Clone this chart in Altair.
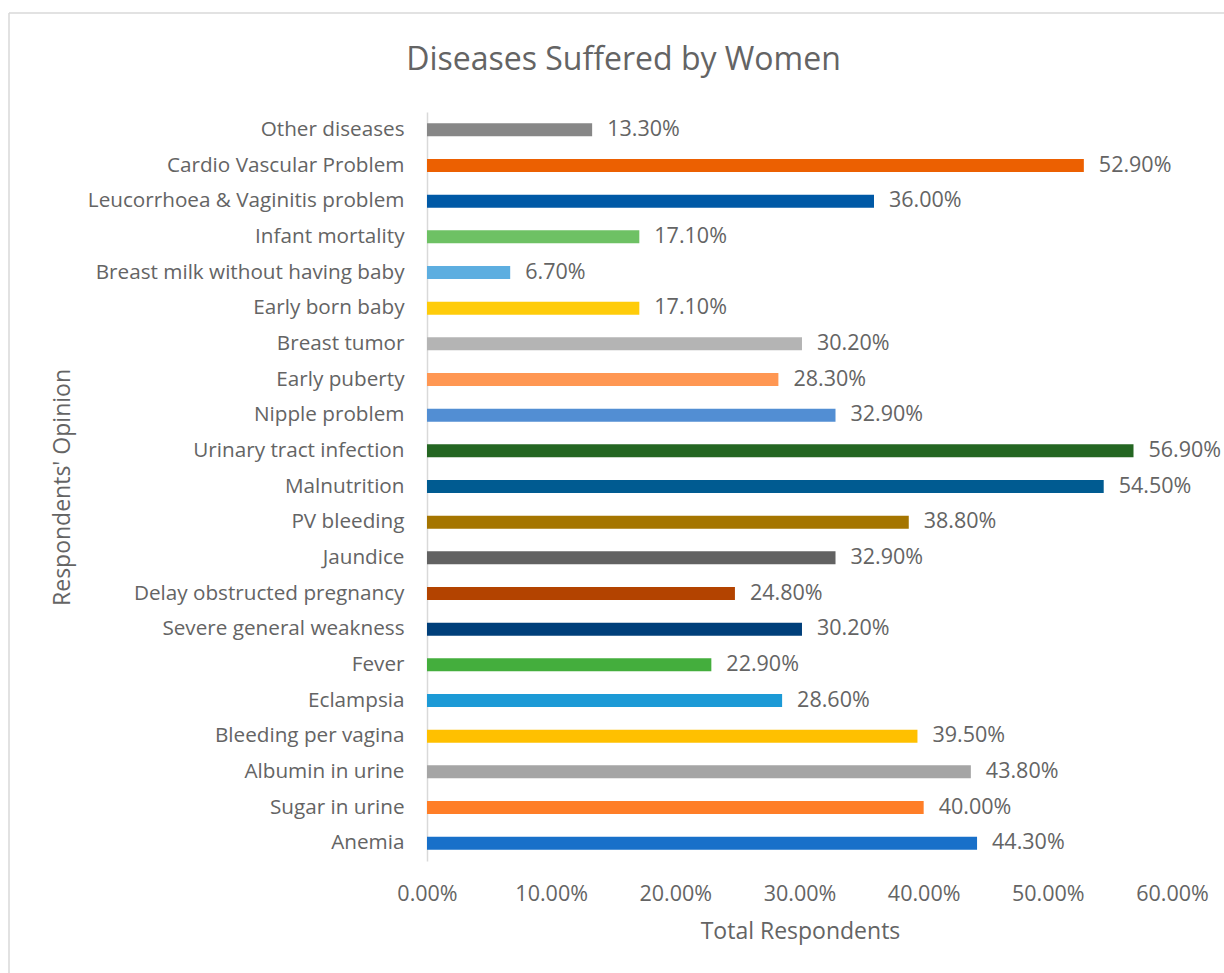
import altair as alt
import pandas as pd

# Categories listed top to bottom as they appear on the chart
diseases = [
    "Other diseases",
    "Cardio Vascular Problem",
    "Leucorrhoea & Vaginitis problem",
    "Infant mortality",
    "Breast milk without having baby",
    "Early born baby",
    "Breast tumor",
    "Early puberty",
    "Nipple problem",
    "Urinary tract infection",
    "Malnutrition",
    "PV bleeding",
    "Jaundice",
    "Delay obstructed pregnancy",
    "Severe general weakness",
    "Fever",
    "Eclampsia",
    "Bleeding per vagina",
    "Albumin in urine",
    "Sugar in urine",
    "Anemia",
]

# Share of respondents (fraction of 1)
shares = [
    0.133, 0.529, 0.360, 0.171, 0.067, 0.171, 0.302, 0.283, 0.329, 0.569, 0.545,
    0.388, 0.329, 0.248, 0.302, 0.229, 0.286, 0.395, 0.438, 0.400, 0.443,
]

bar_colors = [
    "#878787", "#EC6001", "#0059A6", "#6EC164", "#5DAEE0", "#FFCC0A", "#B4B4B4",
    "#FF9753", "#528ED3", "#246622", "#005B91", "#A57500", "#626262", "#B34300",
    "#003F7A", "#44AE3D", "#1C9AD6", "#FFC000", "#A5A5A5", "#FF7E27", "#1870C9",
]

x_ticks = [0.0, 0.1, 0.2, 0.3, 0.4, 0.5, 0.6]

df = pd.DataFrame({"disease": diseases, "share": shares})

FONT = "Open Sans"
TEXT_GREY = "#646464"
PLOT_W, PLOT_H = 745, 749
PAD_L, PAD_T = 427, 112

x_enc = alt.X(
    "share:Q",
    scale=alt.Scale(domain=[0, 0.6], nice=False, zero=True),
    axis=alt.Axis(
        values=x_ticks,
        format=".2%",
        title="Total Respondents",
        grid=False,
        ticks=False,
        domain=False,
        labelFlush=False,
        labelPadding=22,
        labelFontSize=21.5,
        labelColor=TEXT_GREY,
        labelFont=FONT,
        titleFont=FONT,
        titleFontSize=23,
        titleFontWeight="normal",
        titleColor=TEXT_GREY,
        titleX=373,
        titleY=70,
        titleBaseline="middle",
    ),
)

y_enc = alt.Y(
    "disease:N",
    sort=diseases,
    scale=alt.Scale(paddingInner=0.0, paddingOuter=0.0),
    axis=alt.Axis(
        title="Respondents' Opinion",
        ticks=False,
        grid=False,
        domain=True,
        domainColor="#D9D9D9",
        domainWidth=1.5,
        labelPadding=23,
        labelLimit=0,
        labelFontSize=20.7,
        labelColor=TEXT_GREY,
        labelFont=FONT,
        titleFont=FONT,
        titleFontSize=23,
        titleFontWeight="normal",
        titleColor=TEXT_GREY,
        titleX=-365,
        titleY=375,
        titleAngle=-90,
        titleAlign="center",
        titleBaseline="middle",
    ),
)

base = alt.Chart(df)

bars = base.mark_bar(size=13).encode(
    x=x_enc,
    y=y_enc,
    color=alt.Color(
        "disease:N",
        scale=alt.Scale(domain=diseases, range=bar_colors),
        legend=None,
    ),
)

labels = base.mark_text(
    align="left",
    baseline="middle",
    dx=15,
    fontSize=21.5,
    font=FONT,
    color=TEXT_GREY,
).encode(
    x="share:Q",
    y=alt.Y("disease:N", sort=diseases),
    text=alt.Text("share:Q", format=".2%"),
)

# Thin outer frame of the chart area (top and left edges)
frame_df = pd.DataFrame({"k": [0]})
frame_top = alt.Chart(frame_df).mark_rule(color="#D9D9D9", strokeWidth=1.5).encode(
    x=alt.value(9 - PAD_L), x2=alt.value(1224 - PAD_L + 10), y=alt.value(13 - PAD_T)
)
frame_left = alt.Chart(frame_df).mark_rule(color="#D9D9D9", strokeWidth=1.5).encode(
    x=alt.value(9 - PAD_L), y=alt.value(13 - PAD_T), y2=alt.value(973 - PAD_T + 10)
)

chart = (
    alt.layer(frame_top, frame_left, bars, labels)
    .properties(
        width=PLOT_W,
        height=PLOT_H,
        view=alt.ViewBackground(stroke="transparent", strokeWidth=0, strokeOpacity=0),
        title=alt.TitleParams(
            "Diseases Suffered by Women",
            font=FONT,
            fontSize=32,
            fontWeight="normal",
            color=TEXT_GREY,
            anchor="middle",
            frame="group",
            baseline="bottom",
            dx=-176,
            dy=97,
            offset=0,
        ),
        padding={"left": PAD_L, "top": PAD_T, "right": 1224 - PAD_L - PLOT_W, "bottom": 973 - PAD_T - PLOT_H},
        autosize=alt.AutoSizeParams(type="none"),
    )
    .configure_view(stroke="transparent", strokeWidth=0)
    .configure(background="white")
)

chart.save("out.html", embed_options={"renderer": "svg", "actions": False})
